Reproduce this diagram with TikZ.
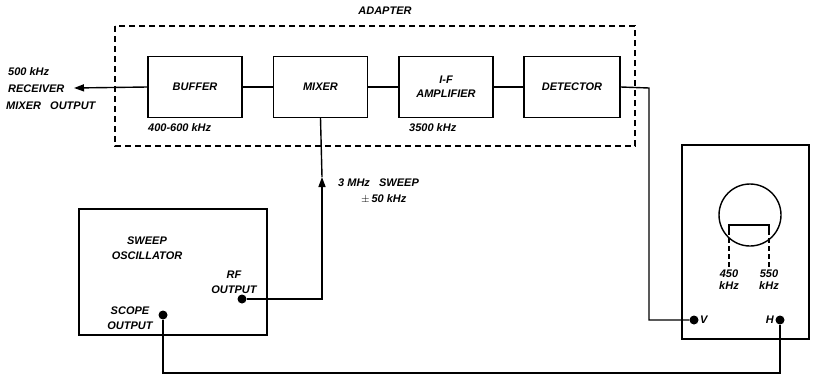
\documentclass[tikz,border=0pt]{standalone}
\usepackage{fontspec}
\setmainfont{Liberation Sans}
\usetikzlibrary{arrows.meta,calc}
\begin{document}
\begin{tikzpicture}[x=1pt,y=-1pt,
  every node/.style={font=\fontsize{11}{12}\selectfont\bfseries\itshape, inner sep=0pt},
  blk/.style={draw, line width=1.4pt, minimum width=94pt, minimum height=61pt, align=center},
  ln/.style={line width=1.4pt},
  dot/.style={circle, fill, minimum size=9pt, inner sep=0pt},
  tip/.style={-{Triangle[length=10pt,width=7pt]}},
  lbl/.style={align=center}]
\useasboundingbox (0,0) rectangle (813,383);
% adapter
\draw[line width=1.2pt, dash pattern=on 6pt off 4pt] (115,26) rectangle (635,146);
\node (adapter) at (385,11) {ADAPTER};
\node[blk] (buffer) at (195,87) {BUFFER};
\node[blk] (mixer) at (320.5,87) {MIXER};
\node[blk] (ifamp) at (446,87) {I-F\\[2pt]AMPLIFIER};
\node[blk, minimum width=96pt] (det) at (572,87) {DETECTOR};
\node[anchor=west] (l400) at (148,128) {400-600 kHz};
\node[anchor=west] (l3500) at (409,128) {3500 kHz};
% input
\node[anchor=west, align=left] (in1) at (8,72) {500 kHz};
\node[anchor=west] (in2) at (8,89) {RECEIVER};
\node[anchor=west] (in3) at (6,106) {MIXER\ \ \ OUTPUT};
\coordinate (inpt) at (74,88);
\draw[ln, tip] (buffer.west) -- (inpt);
\draw[ln] (buffer) -- (mixer);
\draw[ln] (mixer) -- (ifamp);
\draw[ln] (ifamp) -- (det);
% sweep oscillator
\draw[ln] (79,209) rectangle (267,335);
\node[lbl] (sweep) at (147,248) {SWEEP\\[3pt]OSCILLATOR};
\node[lbl] (rflbl) at (234,282) {RF\\[3pt]OUTPUT};
\node[lbl] (scopelbl) at (130,318) {SCOPE\\[3pt]OUTPUT};
\node[dot] (rf) at (242,299) {};
\node[dot] (so) at (163,315) {};
\coordinate (arr) at (322,177);
\draw[ln, tip] (rf) -| (arr);
\draw[ln] (arr) -- (mixer.south);
\node[anchor=west] (sw1) at (338,183) {3 MHz\ \ \ SWEEP};
\node[anchor=west] (sw2) at (361,199) {$\pm$\,50 kHz};
% scope
\draw[ln] (682,145) rectangle (809,339);
\draw[ln] (750,215) circle (31);
\coordinate (b1) at (729,268);
\coordinate (b2) at (769,268);
\draw[ln] (729,230) -- (729,225) -- (769,225) -- (769,230);
\draw[line width=1.2pt, dash pattern=on 5pt off 3pt] (729,230) -- (b1);
\draw[line width=1.2pt, dash pattern=on 5pt off 3pt] (769,230) -- (b2);
\node[lbl] (f450) at (729,280) {450\\[0pt]kHz};
\node[lbl] (f550) at (769,280) {550\\[0pt]kHz};
\node[dot] (V) at (694,320) {};
\node[dot] (H) at (780,320) {};
\node[anchor=west] (Vl) at (700,320) {V};
\node[anchor=east] (Hl) at (774,320) {H};
\coordinate (dc) at (649,88);
\draw[ln] (det.east) -- (dc) |- (V);
\coordinate (hb) at (780,373);
\draw[ln] (so) |- (hb) -- (H);
\end{tikzpicture}
\end{document}
